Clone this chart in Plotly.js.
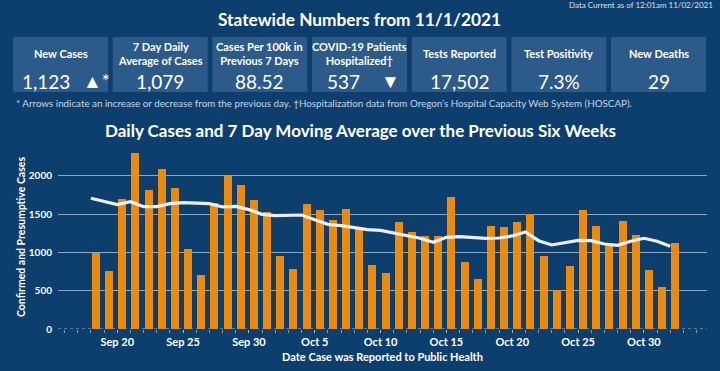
<!DOCTYPE html>
<html>
<head>
<meta charset="utf-8">
<script src="https://cdn.plot.ly/plotly-3.0.1.min.js"></script>
<style>
html,body{margin:0;padding:0;background:#0d3f6e;}
#chart{width:720px;height:371px;}
</style>
</head>
<body>
<div id="chart"></div>
<script>
// ---- Data ----
const dates = ["2021-09-18","2021-09-19","2021-09-20","2021-09-21","2021-09-22","2021-09-23","2021-09-24","2021-09-25","2021-09-26","2021-09-27","2021-09-28","2021-09-29","2021-09-30",
"2021-10-01","2021-10-02","2021-10-03","2021-10-04","2021-10-05","2021-10-06","2021-10-07","2021-10-08","2021-10-09","2021-10-10","2021-10-11","2021-10-12","2021-10-13","2021-10-14","2021-10-15","2021-10-16","2021-10-17","2021-10-18","2021-10-19","2021-10-20","2021-10-21","2021-10-22","2021-10-23","2021-10-24","2021-10-25","2021-10-26","2021-10-27","2021-10-28","2021-10-29","2021-10-30","2021-10-31","2021-11-01"];
const dailyCases = [985,755,1690,2290,1818,2092,1835,1048,700,1644,2000,1874,1678,
1531,952,783,1635,1557,1426,1570,1305,835,726,1400,1266,1214,1214,1717,869,652,1348,1331,1396,1505,952,504,822,1548,1344,1087,1413,1231,774,552,1123];
const movingAvg = [1705,1665,1622,1661,1596,1596,1635,1648,1644,1635,1592,1600,1557,
1496,1479,1487,1487,1426,1365,1348,1318,1296,1287,1253,1218,1183,1131,1196,1205,1196,1183,1187,1214,1266,1152,1096,1122,1157,1152,1109,1091,1144,1183,1144,1079];

const statLabels = ["New Cases","7 Day Daily<br>Average of Cases","Cases Per 100k in<br>Previous 7 Days","COVID-19 Patients<br>Hospitalized†","Tests Reported","Test Positivity","New Deaths"];
const statValues = ["1,123","1,079","88.52","537","17,502","7.3%","29"];
const statArrows = ["▲*","","","▼","","",""];

const pageTitle = "Statewide Numbers from 11/1/2021";
const chartTitle = "Daily Cases and 7 Day Moving Average over the Previous Six Weeks";
const dataCurrent = "Data Current as of 12:01am 11/02/2021";
const footnote = "* Arrows indicate an increase or decrease from the previous day. †Hospitalization data from Oregon’s Hospital Capacity Web System (HOSCAP).";
const yTitle = "Confirmed and Presumptive Cases";
const xTitle = "Date Case was Reported to Public Health";

// ---- Layout helpers ----
const FONT = "Lato, 'Open Sans', sans-serif";
const L = 58, T = 145, W = 649, H = 184;
const fx = px => (px - L) / W;
const fy = py => (T + H - py) / H;
const DAY = 86400000;

const shapes = [];
const annotations = [];

// header texts
annotations.push({text: dataCurrent, xref:'paper', yref:'paper', x: fx(715), y: fy(5), xanchor:'right', yanchor:'middle', showarrow:false, font:{family:FONT, size:8, color:'#d8e2ec'}});
annotations.push({text: '<b>' + pageTitle + '</b>', xref:'paper', yref:'paper', x: fx(359), y: fy(19), xanchor:'center', yanchor:'middle', showarrow:false, font:{family:FONT, size:17.3, color:'#ffffff'}});
annotations.push({text: '<b>' + chartTitle + '</b>', xref:'paper', yref:'paper', x: fx(360), y: fy(130), xanchor:'center', yanchor:'middle', showarrow:false, font:{family:FONT, size:17, color:'#ffffff'}});
annotations.push({text: footnote, xref:'paper', yref:'paper', x: fx(14), y: fy(103), xanchor:'left', yanchor:'middle', showarrow:false, font:{family:FONT, size:9.8, color:'#c9d5e1'}});

// stat boxes
const boxW = 95, boxStep = 99.67, boxX0 = 13, boxTop = 37, boxBot = 92;
statLabels.forEach((lab, i) => {
  const x0 = boxX0 + i * boxStep, x1 = x0 + boxW, cx = (x0 + x1) / 2;
  shapes.push({type:'rect', xref:'paper', yref:'paper', x0: fx(x0), x1: fx(x1), y0: fy(boxBot), y1: fy(boxTop), fillcolor:'#2c5a89', line:{width:0}, layer:'below'});
  annotations.push({text:'<b>' + lab + '</b>', xref:'paper', yref:'paper', x: fx(cx), y: fy(54), xanchor:'center', yanchor:'middle', showarrow:false, font:{family:FONT, size:11, color:'#ffffff'}});
  if (statArrows[i]) {
    annotations.push({text: statValues[i], xref:'paper', yref:'paper', x: fx(x0 + (i===0 ? 7 : 13)), y: fy(81), xanchor:'left', yanchor:'middle', showarrow:false, font:{family:FONT, size:19, color:'#ffffff'}});
    annotations.push({text: statArrows[i], xref:'paper', yref:'paper', x: fx(x0 + (i===0 ? 68 : 67)), y: fy(80), xanchor:'left', yanchor:'middle', showarrow:false, font:{family:FONT, size:19, color:'#ffffff'}});
  } else {
    annotations.push({text: statValues[i], xref:'paper', yref:'paper', x: fx(cx), y: fy(81), xanchor:'center', yanchor:'middle', showarrow:false, font:{family:FONT, size:19, color:'#ffffff'}});
  }
});

// dotted baseline
shapes.push({type:'line', xref:'paper', yref:'y', x0:0, x1:1, y0:0, y1:0, line:{color:'#9fb8d0', width:1, dash:'dot'}, layer:'below'});

const traces = [
  {type:'bar', x: dates, y: dailyCases, marker:{color:'#ec8a0c'}, width: 0.61*DAY, offset: 0.07*DAY, hoverinfo:'x+y', name:'Daily Cases'},
  {type:'scatter', mode:'lines', x: dates, y: movingAvg, line:{color:'#e9eef2', width:3.2, shape:'linear'}, name:'7 Day Moving Average'}
];

const layout = {
  width: 720, height: 371,
  paper_bgcolor:'#0d3f6e', plot_bgcolor:'#0d3f6e',
  margin:{l:L, r:720-L-W, t:T, b:371-T-H},
  showlegend:false,
  font:{family:FONT, color:'#ffffff'},
  bargap:0,
  xaxis:{
    type:'date', range:['2021-09-15 12:00','2021-11-03 19:00'],
    tick0:'2021-09-20', dtick: 5*DAY, tickformat:'%b %-d',
    showgrid:false, zeroline:false, showline:false,
    ticks:'outside', ticklen:3, tickcolor:'#9fb8d0', tickwidth:1,
    minor:{dtick: DAY, tick0:'2021-09-15', ticks:'outside', ticklen:3, tickcolor:'#7f9cb8', showgrid:false},
    tickfont:{family:FONT, size:11, color:'#ffffff', weight:'bold'},
    title:{text:'<b>' + xTitle + '</b>', font:{family:FONT, size:11, color:'#ffffff'}, standoff:6}
  },
  yaxis:{
    range:[0,2400], tickvals:[0,500,1000,1500,2000],
    showgrid:true, gridcolor:'#86a9c8', gridwidth:1, zeroline:false, showline:false,
    ticks:'outside', ticklen:3, tickcolor:'rgba(0,0,0,0)',
    tickfont:{family:FONT, size:10, color:'#ffffff', weight:'bold'},
    title:{text:'<b>' + yTitle + '</b>', font:{family:FONT, size:10.5, color:'#ffffff'}, standoff:1}
  },
  shapes: shapes,
  annotations: annotations
};

Plotly.newPlot('chart', traces, layout, {displayModeBar:false, staticPlot:true});
</script>
</body>
</html>
